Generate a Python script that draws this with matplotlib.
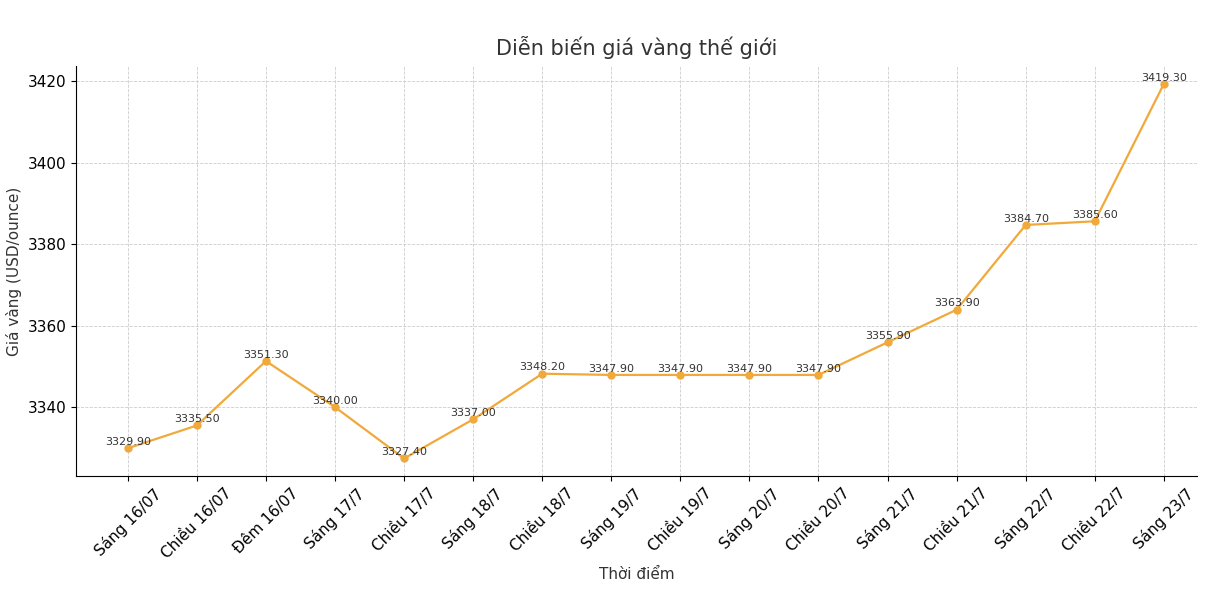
import matplotlib
matplotlib.use("Agg")
import matplotlib.pyplot as plt

labels = ["Sáng 16/07", "Chiều 16/07", "Đêm 16/07", "Sáng 17/7", "Chiều 17/7",
          "Sáng 18/7", "Chiều 18/7", "Sáng 19/7", "Chiều 19/7", "Sáng 20/7",
          "Chiều 20/7", "Sáng 21/7", "Chiều 21/7", "Sáng 22/7", "Chiều 22/7", "Sáng 23/7"]
prices = [3329.90, 3335.50, 3351.30, 3340.00, 3327.40, 3337.00, 3348.20, 3347.90,
          3347.90, 3347.90, 3347.90, 3355.90, 3363.90, 3384.70, 3385.60, 3419.30]

plt.rcParams["font.family"] = "DejaVu Sans"
fig = plt.figure(figsize=(12.24, 6.08), dpi=100)
ax = fig.add_axes([76/1224, 1 - 476/608, (1197-76)/1224, (476-66)/608])

x = list(range(len(labels)))
ax.plot(x, prices, color="#F0A93A", marker="o", markersize=5, linewidth=1.6)
for xi, p in zip(x, prices):
    ax.text(xi, p + 0.3, f"{p:.2f}", ha="center", va="bottom", fontsize=8, color="#333333")

ax.set_xlim(-0.75, 15.48)
ax.set_ylim(3323.1, 3423.7)
ax.set_yticks([3340, 3360, 3380, 3400, 3420])
ax.set_xticks(x)
ax.set_xticklabels(labels, rotation=45, ha="center", fontsize=11)
ax.tick_params(axis="y", labelsize=11)
ax.grid(True, linestyle="--", linewidth=0.6, color="#cccccc")
ax.spines["top"].set_visible(False)
ax.spines["right"].set_visible(False)
ax.set_title("Diễn biến giá vàng thế giới", fontsize=15, color="#333333", pad=8)
ax.set_xlabel("Thời điểm", fontsize=11, color="#333333")
ax.set_ylabel("Giá vàng (USD/ounce)", fontsize=11, color="#333333")

fig.savefig("out.png", dpi=100)
